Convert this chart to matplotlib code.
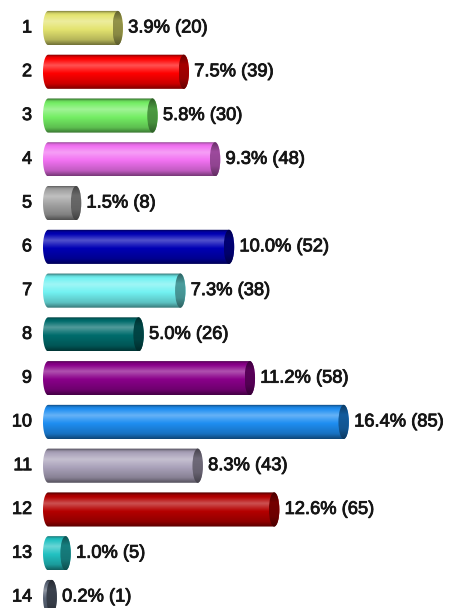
import numpy as np
import matplotlib
matplotlib.use("Agg")
import matplotlib.pyplot as plt
import matplotlib.patheffects as pe
from matplotlib.patches import Polygon, Ellipse
from matplotlib.colors import to_rgb

plt.rcParams['font.family'] = ['Liberation Sans', 'DejaVu Sans']

categories = ["1", "2", "3", "4", "5", "6", "7", "8", "9", "10", "11", "12", "13", "14"]
counts = [20, 39, 30, 48, 8, 52, 38, 26, 58, 85, 43, 65, 5, 1]
percents = [3.9, 7.5, 5.8, 9.3, 1.5, 10.0, 7.3, 5.0, 11.2, 16.4, 8.3, 12.6, 1.0, 0.2]
bar_colors = ["#E4E470", "#FF0000", "#74EE64", "#F272F2", "#A2A2A2", "#0000B4",
              "#72F2F2", "#006C6C", "#8A008A", "#1E8EF2", "#AAA2BA", "#B40000",
              "#22C2C2", "#5A6476"]

W, H, DPI = 450, 608, 100
fig = plt.figure(figsize=(W / DPI, H / DPI), dpi=DPI)
ax = fig.add_axes([0, 0, 1, 1])
ax.set_axis_off()

px_per_unit = 3.476
x0_px = 48.2
row_px = 43.77
row0_px = 28.0
ax.set_xlim(-x0_px / px_per_unit, (W - x0_px) / px_per_unit)
ax.set_ylim((H - row0_px) / row_px, -row0_px / row_px)

cap = 1.5          # half-width of the elliptical end caps (data units)
bar_h = 0.78       # bar thickness in rows

heavy = [pe.withStroke(linewidth=0.6, foreground='#151515')]


def shade(rgb, s):
    rgb = np.asarray(rgb)
    if s >= 0:
        return rgb + (1 - rgb) * s
    return rgb * (1 + s)


def body_gradient(rgb, n=64):
    t = np.linspace(0, 1, n)
    knots_t = [0.0, 0.08, 0.32, 0.55, 0.85, 1.0]
    knots_s = [-0.55, -0.1, 0.32, 0.0, -0.2, -0.5]
    s = np.interp(t, knots_t, knots_s)
    return np.array([shade(rgb, v) for v in s])[:, None, :]


def face_gradient(rgb, n=64):
    t = np.linspace(0, 1, n)
    s = np.interp(t, [0.0, 0.3, 0.7, 1.0], [-0.6, -0.35, -0.4, -0.6])
    return np.array([shade(rgb, v) for v in s])[:, None, :]


def stadium(x_start, x_end, yc, h, a, n=40):
    th = np.linspace(np.pi / 2, 3 * np.pi / 2, n)
    left = np.column_stack([x_start + a * np.cos(th), yc - (h / 2) * np.sin(th)])
    th2 = np.linspace(-np.pi / 2, np.pi / 2, n)
    right = np.column_stack([x_end + a * np.cos(th2), yc - (h / 2) * np.sin(th2)])
    return np.vstack([left, right])


for i, (cat, v, pct, col) in enumerate(zip(categories, counts, percents, bar_colors)):
    rgb = to_rgb(col)
    yt, yb = i - bar_h / 2, i + bar_h / 2

    body = Polygon(stadium(0, v, i, bar_h, cap), closed=True,
                   facecolor='none', edgecolor='none', transform=ax.transData)
    ax.add_patch(body)
    im = ax.imshow(body_gradient(rgb), extent=(-cap, v + cap, yb, yt),
                   origin='upper', aspect='auto', interpolation='bilinear', zorder=2)
    im.set_clip_path(body)

    face = Ellipse((v, i), 2 * cap, bar_h, facecolor='none', edgecolor='none',
                   transform=ax.transData)
    ax.add_patch(face)
    fim = ax.imshow(face_gradient(rgb), extent=(v - cap, v + cap, yb, yt),
                    origin='upper', aspect='auto', interpolation='bilinear', zorder=3)
    fim.set_clip_path(face)

    ax.text(-4.66, i, cat, ha='right', va='center', fontsize=13,
            color='#151515', path_effects=heavy)
    ax.text(v + cap + 1.5, i, f"{pct:.1f}% ({v})", ha='left', va='center',
            fontsize=13.2, color='#151515', path_effects=heavy)

fig.savefig("out.png", dpi=DPI, facecolor='white')
